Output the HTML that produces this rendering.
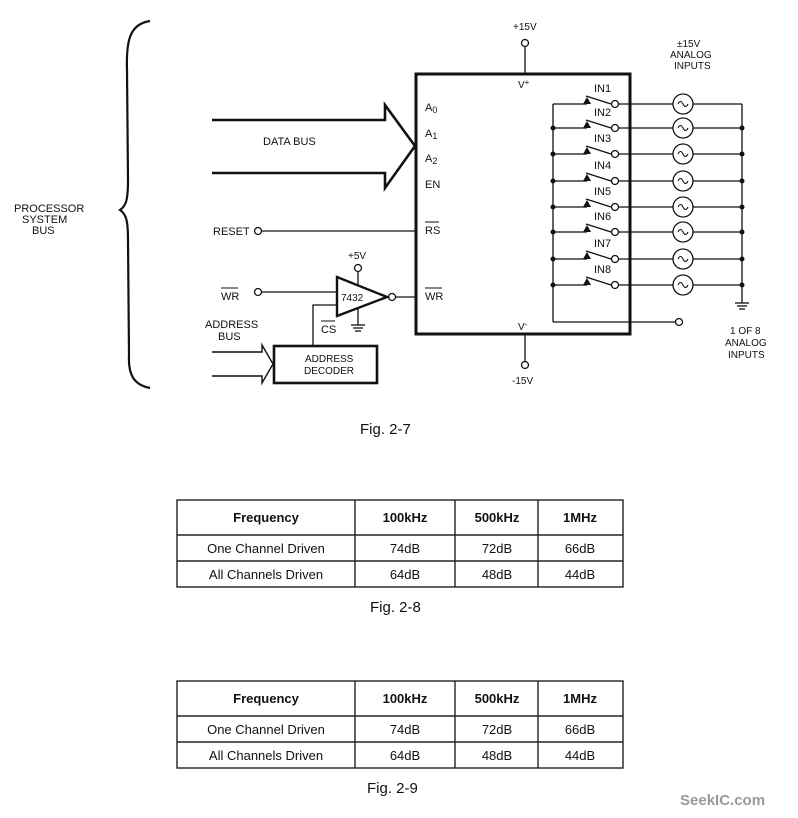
<!DOCTYPE html>
<html><head><meta charset="utf-8"><style>
html,body{margin:0;padding:0;background:#fff;}
svg{display:block;}
text{font-family:"Liberation Sans",sans-serif;fill:#111;}
.s{font-size:11px;font-stretch:condensed;}
</style></head><body>
<svg width="798" height="818" viewBox="0 0 798 818" xmlns="http://www.w3.org/2000/svg">
<g stroke="#111" fill="none" stroke-width="1.3">
<path d="M150,21 C130,24 126,40 127,70 L128,180 C128,200 126,206 120,210 C126,214 128,220 128,240 L129,355 C128,375 134,385 150,388" stroke-width="2.2"/>
<path d="M212,120 L385,120 L385,105 L415,146 L385,188 L385,173 L212,173" stroke-width="2.6"/>
<circle cx="258" cy="231" r="3.5"/><line x1="262" y1="231" x2="415" y2="231"/>
<circle cx="258" cy="292" r="3.5"/><line x1="262" y1="292" x2="337" y2="292"/>
<path d="M337,277 L337,316 L387,297 Z" stroke-width="2.4"/>
<circle cx="392" cy="297" r="3.5"/><line x1="396" y1="297" x2="415" y2="297"/>
<circle cx="358" cy="268" r="3.5"/><line x1="358" y1="272" x2="358" y2="285"/>
<line x1="358" y1="309" x2="358" y2="325"/>
<line x1="351" y1="325" x2="365" y2="325"/><line x1="353" y1="328" x2="363" y2="328"/><line x1="355" y1="331" x2="361" y2="331"/>
<path d="M337,305 L313,305 L313,345"/>
<rect x="274" y="346" width="103" height="37" stroke-width="2.6"/>
<path d="M212,352 L262,352 L262,345 L273,364 L262,383 L262,376 L212,376" stroke-width="1.4"/>
<rect x="416" y="74" width="214" height="260" stroke-width="3"/>
<circle cx="525" cy="43" r="3.5"/><line x1="525" y1="47" x2="525" y2="74"/>
<line x1="525" y1="334" x2="525" y2="361"/><circle cx="525" cy="365" r="3.5"/>
<line x1="553" y1="104" x2="553" y2="322"/>
<line x1="553" y1="322" x2="676" y2="322"/><circle cx="679" cy="322" r="3.5"/>
<line x1="742" y1="104" x2="742" y2="303"/>
<line x1="735" y1="303" x2="749" y2="303"/><line x1="737" y1="306" x2="747" y2="306"/><line x1="739" y1="309" x2="745" y2="309"/>
</g>
<g font-size="11" class="s">
<text x="14" y="212" font-size="11">PROCESSOR</text>
<text x="22" y="223">SYSTEM</text>
<text x="32" y="234">BUS</text>
<text x="263" y="145">DATA BUS</text>
<text x="213" y="235">RESET</text>
<text x="221" y="300">WR</text><line x1="221" y1="288" x2="238" y2="288" stroke="#111"/>
<text x="205" y="328">ADDRESS</text>
<text x="218" y="340">BUS</text>
<text x="341" y="301" font-size="10">7432</text>
<text x="348" y="259" font-size="10">+5V</text>
<text x="321" y="333">CS</text><line x1="321" y1="321" x2="335" y2="321" stroke="#111"/>
<text x="305" y="362" font-size="10">ADDRESS</text>
<text x="304" y="374" font-size="10">DECODER</text>
<text x="513" y="30" font-size="10">+15V</text>
<text x="518" y="88" font-size="10">V<tspan font-size="8" dy="-3">+</tspan></text>
<text x="518" y="330" font-size="10">V<tspan font-size="8" dy="-3">-</tspan></text>
<text x="512" y="384" font-size="10">-15V</text>
<text x="425" y="111">A<tspan font-size="9" dy="2">0</tspan></text>
<text x="425" y="137">A<tspan font-size="9" dy="2">1</tspan></text>
<text x="425" y="162">A<tspan font-size="9" dy="2">2</tspan></text>
<text x="425" y="188">EN</text>
<text x="425" y="234">RS</text><line x1="425" y1="222" x2="439" y2="222" stroke="#111"/>
<text x="425" y="300">WR</text><line x1="425" y1="288" x2="442" y2="288" stroke="#111"/>
<text x="677" y="47" font-size="10">±15V</text>
<text x="670" y="58" font-size="10">ANALOG</text>
<text x="674" y="69" font-size="10">INPUTS</text>
<text x="730" y="334" font-size="10">1 OF 8</text>
<text x="725" y="346" font-size="10">ANALOG</text>
<text x="728" y="358" font-size="10">INPUTS</text>
</g>
<g font-size="15">
<text x="360" y="434">Fig. 2-7</text>
<text x="370" y="612">Fig. 2-8</text>
<text x="367" y="793">Fig. 2-9</text>
</g>
<g stroke="#222" fill="none" stroke-width="1.4">
<rect x="177" y="500" width="446" height="87"/>
<line x1="177" y1="535" x2="623" y2="535"/><line x1="177" y1="561" x2="623" y2="561"/>
<line x1="355" y1="500" x2="355" y2="587"/><line x1="455" y1="500" x2="455" y2="587"/><line x1="538" y1="500" x2="538" y2="587"/>
<rect x="177" y="681" width="446" height="87"/>
<line x1="177" y1="716" x2="623" y2="716"/><line x1="177" y1="742" x2="623" y2="742"/>
<line x1="355" y1="681" x2="355" y2="768"/><line x1="455" y1="681" x2="455" y2="768"/><line x1="538" y1="681" x2="538" y2="768"/>
</g>
<g font-size="13" text-anchor="middle">
<text x="266" y="522" font-weight="bold">Frequency</text><text x="405" y="522" font-weight="bold">100kHz</text><text x="497" y="522" font-weight="bold">500kHz</text><text x="580" y="522" font-weight="bold">1MHz</text>
<text x="266" y="553">One Channel Driven</text><text x="405" y="553">74dB</text><text x="497" y="553">72dB</text><text x="580" y="553">66dB</text>
<text x="266" y="579">All Channels Driven</text><text x="405" y="579">64dB</text><text x="497" y="579">48dB</text><text x="580" y="579">44dB</text>
<text x="266" y="703" font-weight="bold">Frequency</text><text x="405" y="703" font-weight="bold">100kHz</text><text x="497" y="703" font-weight="bold">500kHz</text><text x="580" y="703" font-weight="bold">1MHz</text>
<text x="266" y="734">One Channel Driven</text><text x="405" y="734">74dB</text><text x="497" y="734">72dB</text><text x="580" y="734">66dB</text>
<text x="266" y="760">All Channels Driven</text><text x="405" y="760">64dB</text><text x="497" y="760">48dB</text><text x="580" y="760">44dB</text>
</g>
<text x="680" y="805" font-size="15" font-weight="bold" style="fill:#999">SeekIC.com</text>
<g stroke="#111" stroke-width="1.3" fill="none" font-size="10">
<path d="M553,104 L587,104 M553,128 L587,128 M553,154 L587,154 M553,181 L587,181 M553,207 L587,207 M553,232 L587,232 M553,259 L587,259 M553,285 L587,285"/>
<path d="M586,96 L611,104 M586,120 L611,128 M586,146 L611,154 M586,173 L611,181 M586,199 L611,207 M586,224 L611,232 M586,251 L611,259 M586,277 L611,285"/>
<path d="M619,104 L673,104 M693,104 L742,104 M619,128 L673,128 M693,128 L742,128 M619,154 L673,154 M693,154 L742,154 M619,181 L673,181 M693,181 L742,181 M619,207 L673,207 M693,207 L742,207 M619,232 L673,232 M693,232 L742,232 M619,259 L673,259 M693,259 L742,259 M619,285 L673,285 M693,285 L742,285"/>
<g>
<circle cx="615" cy="104" r="3.5"/><circle cx="615" cy="128" r="3.5"/><circle cx="615" cy="154" r="3.5"/><circle cx="615" cy="181" r="3.5"/><circle cx="615" cy="207" r="3.5"/><circle cx="615" cy="232" r="3.5"/><circle cx="615" cy="259" r="3.5"/><circle cx="615" cy="285" r="3.5"/>
<circle cx="683" cy="104" r="10"/><circle cx="683" cy="128" r="10"/><circle cx="683" cy="154" r="10"/><circle cx="683" cy="181" r="10"/><circle cx="683" cy="207" r="10"/><circle cx="683" cy="232" r="10"/><circle cx="683" cy="259" r="10"/><circle cx="683" cy="285" r="10"/>
</g>
<g stroke-width="1.1">
<path d="M678,104 q2.5,-5 5,0 t5,0"/><path d="M678,128 q2.5,-5 5,0 t5,0"/><path d="M678,154 q2.5,-5 5,0 t5,0"/><path d="M678,181 q2.5,-5 5,0 t5,0"/><path d="M678,207 q2.5,-5 5,0 t5,0"/><path d="M678,232 q2.5,-5 5,0 t5,0"/><path d="M678,259 q2.5,-5 5,0 t5,0"/><path d="M678,285 q2.5,-5 5,0 t5,0"/>
</g>
<g fill="#111" stroke="none">
<path d="M583,104 L587,97 L591,104Z"/><path d="M583,128 L587,121 L591,128Z"/><path d="M583,154 L587,147 L591,154Z"/><path d="M583,181 L587,174 L591,181Z"/><path d="M583,207 L587,200 L591,207Z"/><path d="M583,232 L587,225 L591,232Z"/><path d="M583,259 L587,252 L591,259Z"/><path d="M583,285 L587,278 L591,285Z"/>
<circle cx="553" cy="128" r="2.5"/><circle cx="553" cy="154" r="2.5"/><circle cx="553" cy="181" r="2.5"/><circle cx="553" cy="207" r="2.5"/><circle cx="553" cy="232" r="2.5"/><circle cx="553" cy="259" r="2.5"/><circle cx="553" cy="285" r="2.5"/>
<circle cx="742" cy="128" r="2.5"/><circle cx="742" cy="154" r="2.5"/><circle cx="742" cy="181" r="2.5"/><circle cx="742" cy="207" r="2.5"/><circle cx="742" cy="232" r="2.5"/><circle cx="742" cy="259" r="2.5"/><circle cx="742" cy="285" r="2.5"/>
<text x="594" y="92" class="s" font-size="10">IN1</text><text x="594" y="116" class="s" font-size="10">IN2</text><text x="594" y="142" class="s" font-size="10">IN3</text><text x="594" y="169" class="s" font-size="10">IN4</text><text x="594" y="195" class="s" font-size="10">IN5</text><text x="594" y="220" class="s" font-size="10">IN6</text><text x="594" y="247" class="s" font-size="10">IN7</text><text x="594" y="273" class="s" font-size="10">IN8</text>
</g>
</g>
</svg>
</body></html>
